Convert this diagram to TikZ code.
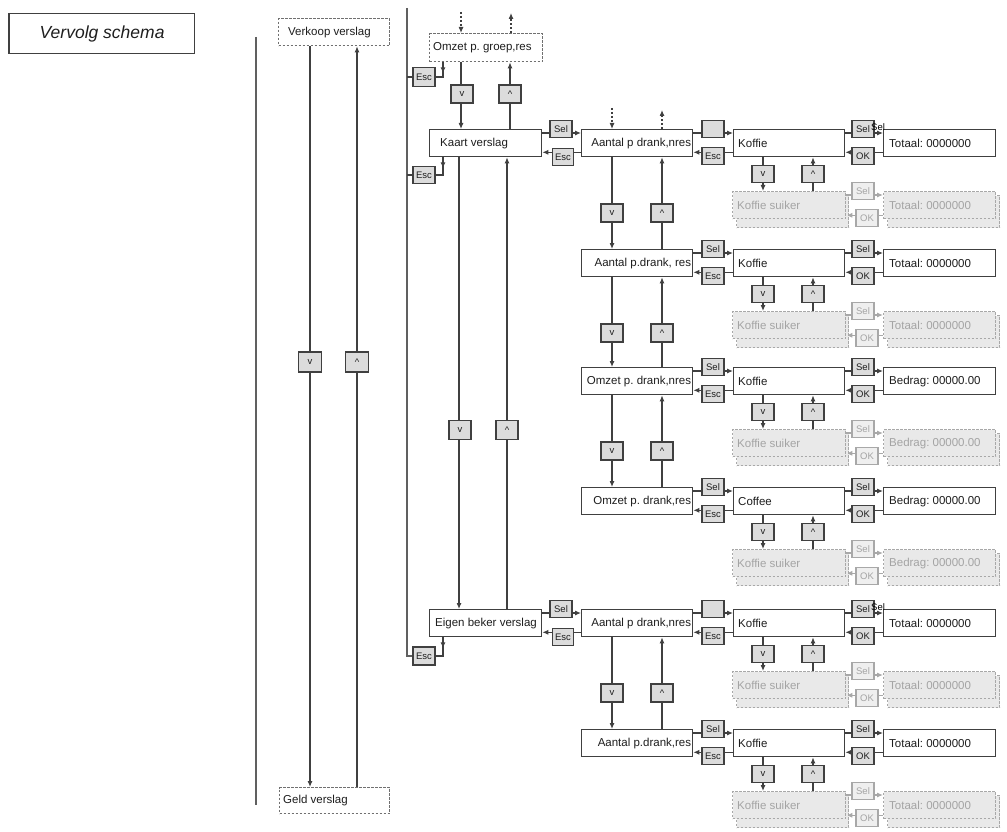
\documentclass[tikz,border=0pt]{standalone}
\usepackage{fontspec}
\setmainfont{Liberation Sans}
\usetikzlibrary{arrows.meta,calc}
\frenchspacing
\pgfdeclarelayer{bg}
\pgfsetlayers{bg,main}
\definecolor{lc}{HTML}{404040}
\definecolor{lline}{HTML}{606060}
\definecolor{txt}{HTML}{1E1E1E}
\definecolor{bfill}{HTML}{DCDCDC}
\definecolor{gline}{HTML}{A8A8A8}
\definecolor{gfill}{HTML}{E9E9E9}
\definecolor{gbfill}{HTML}{EFEFEF}
\definecolor{gtxt}{HTML}{A4A4A4}
\definecolor{dline}{HTML}{707070}
\newcommand\mfs{\fontsize{11.5}{13}\selectfont}
\newcommand\bfs{\fontsize{9.5}{11}\selectfont}
\tikzset{
  ln/.style={draw=lc, line width=1.1pt},
  arr/.style={-{Latex[length=6pt,width=5pt]}},
  gln/.style={draw=gline, line width=1.1pt},
  dsh/.style={dash pattern=on 2.2pt off 1.8pt},
  box/.style={draw=lc, line width=1.3pt, fill=white, anchor=north west, minimum height=27pt, minimum width=#1, inner sep=0pt},
  dbox/.style={box=#1, draw=dline, dsh},
  gbox/.style={box=#1, draw=gline, fill=gfill, dsh},
  gback/.style={gbox=#1, minimum height=32pt},
  lt/.style 2 args={label={[anchor=west,inner sep=0pt,xshift=#1,font=\mfs,text=txt]west:{#2}}},
  rt/.style 2 args={label={[anchor=east,inner sep=0pt,xshift=-#1,font=\mfs,text=txt]east:{#2}}},
  glt/.style 2 args={label={[anchor=west,inner sep=0pt,xshift=#1,font=\mfs,text=gtxt]west:{#2}}},
  btn/.style={draw=lc, line width=1.1pt, fill=bfill, minimum width=22pt, minimum height=17pt, inner sep=0pt, font=\bfs, text=txt},
  gbtn/.style={btn, draw=gline, fill=gbfill, text=gtxt},
}
% one drink row: #1 id, #2 top y, #3 col2 text, #4 col3 text, #5 col4 text, #6 variant
\newcommand\drinkrow[6]{%
  \node[box=111pt, rt={2pt}{#3}] (#1b) at (581,#2) {};
  \node[box=111pt, lt={5pt}{#4}] (#1c) at (733,#2) {};
  \node[box=112pt, lt={6pt}{#5}] (#1d) at (883,#2) {};
  \node[gback=112pt] (#1gcb) at (736,#2+66) {};
  \node[gbox=113pt, glt={5pt}{Koffie suiker}] (#1gc) at (732,#2+62) {};
  \node[gback=112pt] (#1gdb) at (887,#2+66) {};
  \node[gbox=112pt, glt={6pt}{#5}] (#1gd) at (883,#2+62) {};
  \ifnum#6=1 \node[btn] (#1s1) at (713,#2) {};\else\node[btn] (#1s1) at (713,#2) {Sel};\fi
  \node[btn] (#1e1) at (713,#2+27) {Esc};
  \node[btn] (#1s2) at (863,#2) {Sel};
  \node[btn] (#1ok) at (863,#2+27) {OK};
  \node[btn] (#1v) at (763,#2+45) {v};
  \node[btn] (#1u) at (813,#2+45) {\textasciicircum};
  \node[gbtn] (#1gs) at (863,#2+62) {Sel};
  \node[gbtn] (#1gok) at (867,#2+89) {OK};
  \ifnum#6=1 \node[anchor=west, inner sep=0pt, font=\bfs, text=black] (#1x) at (871,#2-2) {Sel};\fi
  \begin{pgfonlayer}{bg}
    \draw[ln,arr] ($(#1b.north east)+(0,4)$) -- ($(#1c.north west)+(0,4)$);
    \draw[ln,arr] ($(#1c.south west)+(0,-5)$) -- ($(#1b.south east)+(0,-5)$);
    \draw[ln,arr] ($(#1c.north east)+(0,4)$) -- ($(#1d.north west)+(0,4)$);
    \draw[ln,arr] ($(#1d.south west)+(0,-5)$) -- ($(#1c.south east)+(0,-5)$);
    \draw[ln,arr] ($(#1c.south west)+(30,0)$) -- ($(#1gc.north west)+(31,0)$);
    \draw[ln,arr] ($(#1gc.north west)+(81,0)$) -- ($(#1c.south west)+(80,0)$);
    \draw[gln,arr] ($(#1gc.north east)+(0,4)$) -- ($(#1gd.north west)+(0,4)$);
    \draw[gln,arr] ($(#1gd.south west)+(0,-4)$) -- ($(#1gc.south east)+(0,-4)$);
  \end{pgfonlayer}
}
% vertical v/^ link between two col2 boxes: #1 upper id, #2 lower id, #3 upper top y
\newcommand\vud[3]{%
  \node[btn, minimum height=18pt] (#1dn) at (612,#3+84) {v};
  \node[btn, minimum height=18pt] (#1up) at (662,#3+84) {\textasciicircum};
  \begin{pgfonlayer}{bg}
    \draw[ln,arr] ($(#1b.south west)+(31,0)$) -- ($(#2b.north west)+(31,0)$);
    \draw[ln,arr] ($(#2b.north west)+(81,0)$) -- ($(#1b.south west)+(81,0)$);
  \end{pgfonlayer}
}
\begin{document}
\begin{tikzpicture}[x=1pt,y=-1pt]
\useasboundingbox (0,0) rectangle (1007,832);
% title
\node[draw=lc, line width=1.2pt, anchor=north west, minimum width=185pt, minimum height=40pt, inner sep=0pt,
      font=\fontsize{17.5}{20}\selectfont\itshape, text=txt] (title) at (9,13) {Vervolg schema};
\draw[lc, line width=2.4pt] (title.north west) -- (title.south west);
% long left line
\coordinate (la1) at (256,37); \coordinate (la2) at (256,805);
\draw[ln, draw=lline, line width=1.3pt] (la1) -- (la2);
% Verkoop / Geld
\node[dbox=111pt, lt={10pt}{Verkoop verslag}] (verk) at (278,18) {};
\node[dbox=110pt, minimum height=26pt, lt={4pt}{Geld verslag}] (geld) at (279,787) {};
\node[btn, minimum width=23pt, minimum height=20pt] (vgv) at (310,362) {v};
\node[btn, minimum width=23pt, minimum height=20pt] (vgu) at (357,362) {\textasciicircum};
\begin{pgfonlayer}{bg}
\draw[ln,arr] ($(verk.south west)+(32,0)$) -- ($(geld.north west)+(31,0)$);
\draw[ln,arr] ($(geld.north west)+(78,0)$) -- ($(verk.south west)+(79,0)$);
\end{pgfonlayer}
% column A
\node[dbox=113pt, minimum height=28pt, lt={4pt}{Omzet p. groep,res}] (omzet) at (429,33) {};
\node[box=112pt, lt={11pt}{Kaart verslag}] (kaart) at (429,129) {};
\node[box=112pt, lt={6pt}{Eigen beker verslag}] (eigen) at (429,609) {};
% left Esc chain
\coordinate (lb1) at (407,8);
\node[btn, minimum height=19pt] (esc1) at (424,77) {Esc};
\node[btn] (esc2) at (424,175) {Esc};
\node[btn, minimum height=18pt] (esc3) at (424,656) {Esc};
\begin{pgfonlayer}{bg}
\draw[ln, draw=lline, line width=1.3pt] (lb1) |- (esc3.west);
\draw[ln] (esc1.west) -- (esc1.west -| lb1);
\draw[ln] (esc2.west) -- (esc2.west -| lb1);
\draw[ln] (esc1.east) -| ($(omzet.south west)+(14,9)$);
\draw[ln,arr] ($(omzet.south west)+(14,0)$) -- ($(omzet.south west)+(14,11)$);
\draw[ln] (esc2.east) -| ($(kaart.south west)+(14,9)$);
\draw[ln,arr] ($(kaart.south west)+(14,0)$) -- ($(kaart.south west)+(14,11)$);
\draw[ln] (esc3.east) -| ($(eigen.south west)+(14,9)$);
\draw[ln,arr] ($(eigen.south west)+(14,0)$) -- ($(eigen.south west)+(14,11)$);
\end{pgfonlayer}
% Omzet <-> Kaart
\node[btn, minimum height=18pt] (ogv) at (462,94) {v};
\node[btn, minimum height=18pt] (ogu) at (510,94) {\textasciicircum};
% Kaart <-> Eigen
\node[btn, minimum height=19pt] (kev) at (460,430) {v};
\node[btn, minimum height=19pt] (keu) at (507,430) {\textasciicircum};
\coordinate (od1) at (461,12); \coordinate (od2) at (511,13);
\begin{pgfonlayer}{bg}
\draw[ln,arr] ($(omzet.south west)+(32,0)$) -- ($(kaart.north west)+(32,0)$);
\draw[ln,arr] ($(kaart.north west)+(81,0)$) -- ($(omzet.south west)+(81,0)$);
\draw[ln,arr] ($(kaart.south west)+(30,0)$) -- ($(eigen.north west)+(30,0)$);
\draw[ln,arr] ($(eigen.north west)+(78,0)$) -- ($(kaart.south west)+(78,0)$);
\draw[ln,arr,dsh] (od1) -- ($(omzet.north west)+(32,0)$);
\draw[ln,arr,dsh] ($(omzet.north west)+(82,0)$) -- (od2);
\end{pgfonlayer}
% drink rows
\drinkrow{ra}{129}{Aantal p drank,nres}{Koffie}{Totaal: 0000000}{1}
\drinkrow{rb}{249}{Aantal p.drank, res}{Koffie}{Totaal: 0000000}{0}
\drinkrow{rc}{367}{Omzet p. drank,nres}{Koffie}{Bedrag: 00000.00}{0}
\drinkrow{rd}{487}{Omzet p. drank,res}{Coffee}{Bedrag: 00000.00}{0}
\drinkrow{re}{609}{Aantal p drank,nres}{Koffie}{Totaal: 0000000}{1}
\drinkrow{rf}{729}{Aantal p.drank,res}{Koffie}{Totaal: 0000000}{0}
\vud{ra}{rb}{129}
\vud{rb}{rc}{249}
\vud{rc}{rd}{367}
\vud{re}{rf}{609}
% dashed arrows above first drink row
\coordinate (ad1) at (612,108); \coordinate (ad2) at (662,110);
\begin{pgfonlayer}{bg}
\draw[ln,arr,dsh] (ad1) -- ($(rab.north west)+(31,0)$);
\draw[ln,arr,dsh] ($(rab.north west)+(81,0)$) -- (ad2);
\end{pgfonlayer}
% column A to column 2
\node[btn] (ks) at (561,129) {Sel};
\node[btn, minimum width=21pt] (ke) at (563,157) {Esc};
\node[btn] (es) at (561,609) {Sel};
\node[btn, minimum width=21pt] (ee) at (563,637) {Esc};
\begin{pgfonlayer}{bg}
\draw[ln,arr] ($(kaart.north east)+(0,4)$) -- ($(rab.north west)+(0,4)$);
\draw[ln,arr] ($(rab.south west)+(0,-5)$) -- ($(kaart.south east)+(0,-5)$);
\draw[ln,arr] ($(eigen.north east)+(0,4)$) -- ($(reb.north west)+(0,4)$);
\draw[ln,arr] ($(reb.south west)+(0,-5)$) -- ($(eigen.south east)+(0,-5)$);
\end{pgfonlayer}
\end{tikzpicture}
\end{document}
